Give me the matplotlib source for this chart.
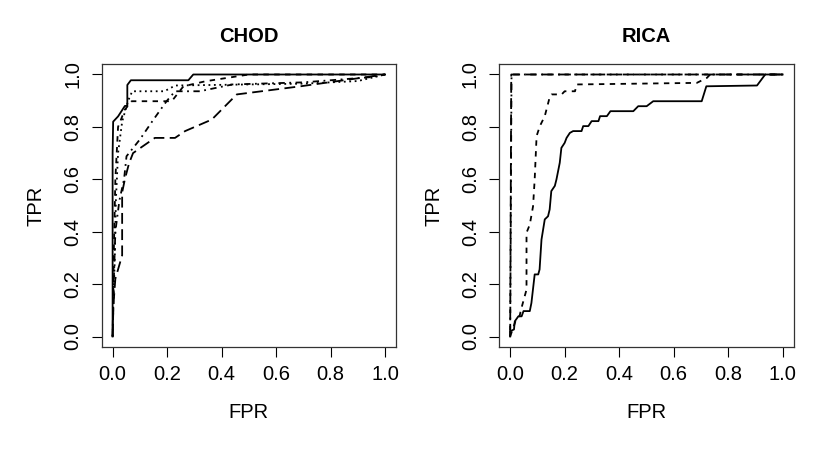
import matplotlib
matplotlib.use("Agg")
import matplotlib.pyplot as plt

plt.rcParams['font.family'] = ['Liberation Sans', 'DejaVu Sans']

# CHOD panel
chod_solid_fpr = [0, 0, 0.002, 0.02, 0.045, 0.054, 0.054, 0.067, 0.278, 0.296, 1.0]
chod_solid_tpr = [0, 0.70, 0.82, 0.84, 0.88, 0.88, 0.96, 0.978, 0.978, 1.0, 1.0]

chod_dotted_fpr = [0, 0.003, 0.008, 0.012, 0.02, 0.035, 0.057, 0.072, 0.19, 0.23, 0.7, 0.9, 1.0]
chod_dotted_tpr = [0, 0.13, 0.30, 0.52, 0.70, 0.82, 0.90, 0.936, 0.936, 0.958, 0.965, 0.975, 1.0]

chod_dashed_fpr = [0, 0.004, 0.01, 0.02, 0.045, 0.07, 0.217, 0.26, 0.34, 0.5, 1.0]
chod_dashed_tpr = [0, 0.30, 0.60, 0.80, 0.866, 0.898, 0.898, 0.955, 0.974, 1.0, 1.0]

chod_dotdash_fpr = [0, 0.004, 0.01, 0.025, 0.042, 0.051, 0.10, 0.15, 0.198, 0.229, 0.32, 0.44, 0.7, 0.95, 1.0]
chod_dotdash_tpr = [0, 0.20, 0.40, 0.52, 0.60, 0.688, 0.752, 0.828, 0.898, 0.936, 0.936, 0.962, 0.97, 0.99, 1.0]

chod_longdash_fpr = [0, 0.003, 0.01, 0.035, 0.035, 0.045, 0.06, 0.075, 0.094, 0.155, 0.229, 0.266, 0.364, 0.4375, 0.456, 0.69, 1.0]
chod_longdash_tpr = [0, 0.12, 0.22, 0.31, 0.55, 0.60, 0.66, 0.70, 0.714, 0.758, 0.758, 0.784, 0.828, 0.905, 0.924, 0.955, 1.0]

# RICA panel
rica_solid_fpr = [0, 0, 0.014, 0.017, 0.03, 0.042, 0.049, 0.072, 0.078, 0.09, 0.103,
                  0.108, 0.115, 0.127, 0.139, 0.145, 0.151, 0.164, 0.17, 0.182, 0.188,
                  0.2, 0.207, 0.219, 0.231, 0.262, 0.268, 0.287, 0.299, 0.324, 0.33,
                  0.355, 0.368, 0.452, 0.47, 0.501, 0.525, 0.703, 0.72, 0.906, 0.936, 1.0]
rica_solid_tpr = [0, 0.02, 0.027, 0.058, 0.077, 0.077, 0.097, 0.097, 0.128, 0.237, 0.237,
                  0.256, 0.37, 0.447, 0.459, 0.485, 0.555, 0.575, 0.60, 0.663, 0.72,
                  0.739, 0.758, 0.777, 0.784, 0.784, 0.803, 0.803, 0.822, 0.822, 0.841,
                  0.841, 0.86, 0.86, 0.879, 0.879, 0.898, 0.898, 0.955, 0.958, 1.0, 1.0]

rica_dashed_fpr = [0, 0.01, 0.02, 0.035, 0.04, 0.06, 0.06, 0.072, 0.084, 0.09, 0.097, 0.109,
                   0.127, 0.146, 0.152, 0.189, 0.2, 0.238, 0.244, 0.685, 0.722, 0.734, 1.0]
rica_dashed_tpr = [0, 0.03, 0.06, 0.08, 0.103, 0.179, 0.396, 0.427, 0.497, 0.60, 0.765, 0.803,
                   0.841, 0.917, 0.924, 0.924, 0.936, 0.936, 0.962, 0.968, 0.987, 1.0, 1.0]

rica_dotdash_fpr = [0, 0.003, 0.005, 1.0]
rica_dotdash_tpr = [0, 0.60, 1.0, 1.0]

rica_longdash_fpr = [0, 0.002, 0.004, 1.0]
rica_longdash_tpr = [0, 0.50, 1.0, 1.0]

ticks = [0.0, 0.2, 0.4, 0.6, 0.8, 1.0]
tick_labels = ["0.0", "0.2", "0.4", "0.6", "0.8", "1.0"]

styles = {
    "solid": "-",
    "dashed": (0, (3, 3)),
    "dotted": (0, (1, 2)),
    "dotdash": (0, (1, 2.5, 3.5, 2.5)),
    "longdash": (0, (6, 3)),
}

fig = plt.figure(figsize=(8.31, 4.54), dpi=100)
ax1 = fig.add_axes([0.1224, 0.2357, 0.3541, 0.6233])
ax2 = fig.add_axes([0.6008, 0.2357, 0.3541, 0.6233])

panels = [
    (ax1, "CHOD", [
        (chod_solid_fpr, chod_solid_tpr, "solid"),
        (chod_dashed_fpr, chod_dashed_tpr, "dashed"),
        (chod_dotted_fpr, chod_dotted_tpr, "dotted"),
        (chod_dotdash_fpr, chod_dotdash_tpr, "dotdash"),
        (chod_longdash_fpr, chod_longdash_tpr, "longdash"),
    ]),
    (ax2, "RICA", [
        (rica_solid_fpr, rica_solid_tpr, "solid"),
        (rica_dashed_fpr, rica_dashed_tpr, "dashed"),
        (rica_dotdash_fpr, rica_dotdash_tpr, "dotdash"),
        (rica_longdash_fpr, rica_longdash_tpr, "longdash"),
    ]),
]

for ax, title, curves in panels:
    for fpr, tpr, st in curves:
        ax.plot(fpr, tpr, color="black", linewidth=1.3, linestyle=styles[st])
    ax.set_xlim(-0.04, 1.04)
    ax.set_ylim(-0.04, 1.04)
    ax.set_xticks(ticks)
    ax.set_xticklabels(tick_labels)
    ax.set_yticks(ticks)
    ax.set_yticklabels(tick_labels, rotation=90, va="center")
    ax.tick_params(axis="both", direction="out", length=7, width=0.8, labelsize=14.5)
    ax.tick_params(axis="x", pad=6)
    ax.tick_params(axis="y", pad=7)
    for sp in ax.spines.values():
        sp.set_linewidth(0.9)
        sp.set_color("#333333")
    ax.set_xlabel("FPR", fontsize=14.5)
    ax.set_ylabel("TPR", fontsize=14.5)
    ax.xaxis.set_label_coords(0.5, -0.197)
    ax.yaxis.set_label_coords(-0.19, 0.5)
    ax.set_title(title, fontsize=14.5, fontweight="bold", pad=15.5)

plt.savefig("out.png", dpi=100)
plt.close()
